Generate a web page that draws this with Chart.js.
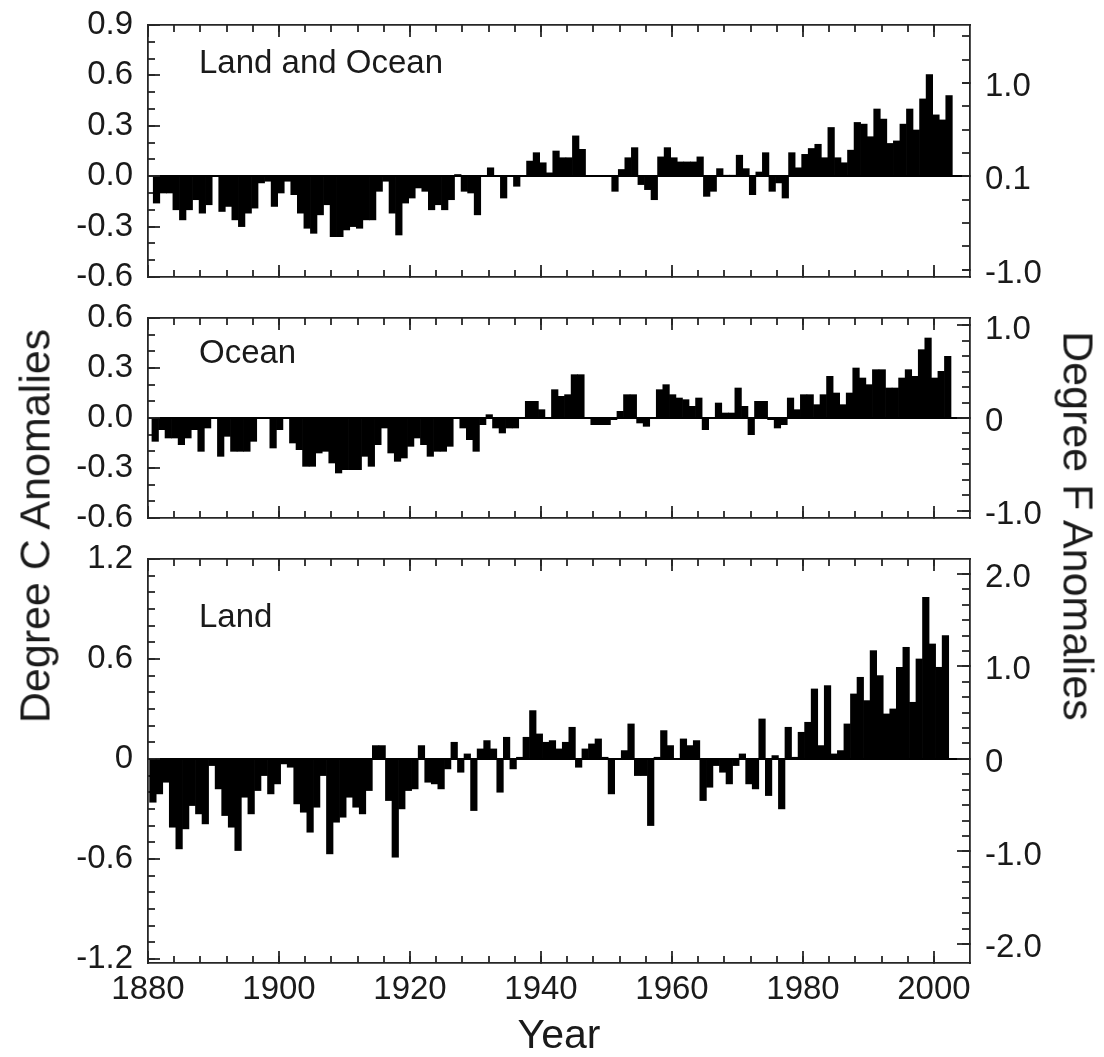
<!DOCTYPE html>
<html>
<head>
<meta charset="utf-8">
<title>Global temperature anomalies</title>
<script src="https://cdn.jsdelivr.net/npm/chart.js@4.4.0/dist/chart.umd.min.js"></script>
<style>
  body { margin: 0; background: #fff; }
  #wrap { position: relative; width: 1104px; height: 1057px; overflow: hidden;
          font-family: 'Liberation Sans', Arial, Helvetica, sans-serif; color: #1a1a1a; }
  canvas { position: absolute; left: 0; }
  .name { position: absolute; left: 199px; font-size: 33px; line-height: 33px; white-space: nowrap; }
  .ytitle { position: absolute; font-size: 43px; line-height: 1; white-space: nowrap; }
</style>
</head>
<body>
<div id="wrap">
  <canvas id="c1" width="1104" height="300" style="top:0px"></canvas>
  <canvas id="c2" width="1104" height="260" style="top:280px"></canvas>
  <canvas id="c3" width="1104" height="527" style="top:530px"></canvas>
  <div class="name" style="top:45px">Land and Ocean</div>
  <div class="name" style="top:335px">Ocean</div>
  <div class="name" style="top:599px">Land</div>
  <div class="ytitle" style="left:35px; top:526px; transform: translate(-50%, -50%) rotate(-90deg);">Degree C Anomalies</div>
  <div class="ytitle" style="left:1078px; top:526px; transform: translate(-50%, -50%) rotate(90deg);">Degree F Anomalies</div>
</div>

<script>
// years 1880 .. 2001, one bar each
const years = Array.from({ length: 122 }, (_, i) => 1880 + i);

// anomalies in degree C (rows of ten years)
const landOcean = [
  -0.16, -0.10, -0.10, -0.20, -0.26, -0.20, -0.14, -0.22, -0.17, 0.00,   // 1880
  -0.21, -0.18, -0.26, -0.30, -0.22, -0.19, -0.04, -0.03, -0.18, -0.10,  // 1890
  -0.03, -0.11, -0.22, -0.31, -0.34, -0.23, -0.17, -0.36, -0.36, -0.32,  // 1900
  -0.30, -0.31, -0.26, -0.26, -0.09, -0.03, -0.22, -0.35, -0.16, -0.13,  // 1910
  -0.07, -0.09, -0.20, -0.17, -0.20, -0.14, 0.01, -0.09, -0.10, -0.23,   // 1920
  0.00, 0.05, 0.00, -0.13, 0.00, -0.06, 0.00, 0.09, 0.14, 0.08,          // 1930
  0.02, 0.15, 0.11, 0.11, 0.24, 0.16, 0.00, 0.00, 0.00, 0.00,            // 1940
  -0.09, 0.04, 0.11, 0.17, -0.05, -0.08, -0.14, 0.115, 0.17, 0.11,       // 1950
  0.085, 0.085, 0.085, 0.115, -0.12, -0.09, 0.045, 0.005, 0.005, 0.125,  // 1960
  0.045, -0.11, 0.025, 0.14, -0.09, -0.04, -0.13, 0.14, 0.05, 0.13,      // 1970
  0.165, 0.19, 0.11, 0.29, 0.11, 0.08, 0.155, 0.32, 0.31, 0.235,         // 1980
  0.40, 0.34, 0.195, 0.21, 0.31, 0.40, 0.275, 0.46, 0.605, 0.365,        // 1990
  0.335, 0.48                                                            // 2000
];

const ocean = [
  -0.14, -0.07, -0.12, -0.12, -0.16, -0.12, -0.07, -0.20, -0.06, 0.00,   // 1880
  -0.23, -0.11, -0.20, -0.20, -0.20, -0.14, 0.00, 0.00, -0.18, -0.07,    // 1890
  0.00, -0.15, -0.19, -0.29, -0.29, -0.21, -0.20, -0.27, -0.33, -0.31,   // 1900
  -0.31, -0.31, -0.23, -0.29, -0.16, -0.06, -0.21, -0.26, -0.24, -0.17,  // 1910
  -0.12, -0.16, -0.23, -0.20, -0.20, -0.17, 0.00, -0.06, -0.13, -0.20,   // 1920
  -0.04, 0.02, -0.06, -0.09, -0.06, -0.06, 0.00, 0.10, 0.10, 0.05,       // 1930
  0.00, 0.17, 0.13, 0.14, 0.26, 0.26, 0.00, -0.04, -0.04, -0.04,         // 1940
  -0.01, 0.04, 0.14, 0.14, -0.03, -0.05, 0.00, 0.17, 0.20, 0.14,         // 1950
  0.12, 0.11, 0.07, 0.12, -0.07, 0.00, 0.09, 0.03, 0.03, 0.18,           // 1960
  0.07, -0.10, 0.10, 0.10, -0.01, -0.06, -0.04, 0.12, 0.05, 0.14,        // 1970
  0.14, 0.08, 0.14, 0.25, 0.15, 0.08, 0.15, 0.30, 0.24, 0.20,            // 1980
  0.29, 0.29, 0.18, 0.18, 0.24, 0.29, 0.25, 0.41, 0.48, 0.24,            // 1990
  0.28, 0.37                                                             // 2000
];

const land = [
  -0.26, -0.21, -0.14, -0.41, -0.54, -0.42, -0.28, -0.33, -0.39, -0.04,  // 1880
  -0.18, -0.34, -0.41, -0.55, -0.23, -0.33, -0.19, -0.10, -0.21, -0.15,  // 1890
  -0.03, -0.05, -0.27, -0.32, -0.44, -0.29, -0.10, -0.57, -0.38, -0.35,  // 1900
  -0.23, -0.29, -0.33, -0.19, 0.08, 0.08, -0.25, -0.59, -0.30, -0.19,    // 1910
  -0.18, 0.08, -0.14, -0.15, -0.18, -0.06, 0.10, -0.08, 0.03, -0.31,     // 1920
  0.06, 0.11, 0.06, -0.20, 0.13, -0.06, 0.01, 0.13, 0.29, 0.15,          // 1930
  0.10, 0.11, 0.06, 0.10, 0.19, -0.05, 0.06, 0.09, 0.12, 0.01,           // 1940
  -0.21, 0.00, 0.05, 0.21, -0.10, -0.10, -0.40, 0.01, 0.17, 0.08,        // 1950
  0.00, 0.12, 0.08, 0.11, -0.25, -0.17, -0.04, -0.08, -0.15, -0.04,      // 1960
  0.03, -0.15, -0.18, 0.24, -0.22, 0.02, -0.30, 0.19, 0.01, 0.16,        // 1970
  0.22, 0.42, 0.08, 0.44, 0.03, 0.05, 0.21, 0.39, 0.49, 0.35,            // 1980
  0.65, 0.50, 0.27, 0.30, 0.55, 0.67, 0.34, 0.60, 0.97, 0.69,            // 1990
  0.55, 0.74                                                             // 2000
];

// tick labels
const xTickValues = [1880, 1900, 1920, 1940, 1960, 1980, 2000];
const xTickLabels = ['1880', '1900', '1920', '1940', '1960', '1980', '2000'];

const loCTicks = [-0.6, -0.3, 0, 0.3, 0.6, 0.9];
const loCLabels = ['-0.6', '-0.3', '0.0', '0.3', '0.6', '0.9'];
const loFTicks = [-1, 0, 1];
const loFLabels = ['-1.0', '0.1', '1.0'];

const ocCTicks = [-0.6, -0.3, 0, 0.3, 0.6];
const ocCLabels = ['-0.6', '-0.3', '0.0', '0.3', '0.6'];
const ocFTicks = [-1, 0, 1];
const ocFLabels = ['-1.0', '0', '1.0'];

const lnCTicks = [-1.2, -0.6, 0, 0.6, 1.2];
const lnCLabels = ['-1.2', '-0.6', '0', '0.6', '1.2'];
const lnFTicks = [-2, -1, 0, 1, 2];
const lnFLabels = ['-2.0', '-1.0', '0', '1.0', '2.0'];

const C_TO_F = 1.8;
const frame = '#262626';
const ink = '#1a1a1a';
const fontFamily = "'Liberation Sans', Arial, Helvetica, sans-serif";

function steps(from, to, step) {
    const out = [];
    const n = Math.round((to - from) / step);
    for (let i = 0; i <= n; i++) out.push(+(from + i * step).toFixed(6));
    return out;
}

function setTicks(values) {
    return scale => { scale.ticks = values.map(v => ({ value: v })); };
}

// fixed axis size, and no extra room reserved for overhanging labels
function fixSize(w, h) {
    return s => {
        if (w !== null) s.width = w;
        if (h !== null) s.height = h;
        s.paddingTop = s.paddingBottom = s.paddingLeft = s.paddingRight = 0;
    };
}

function tickGrid(len, zeroLine) {
    return {
        offset: false,
        drawOnChartArea: !!zeroLine,
        color: zeroLine ? (ctx => (ctx.tick && Math.abs(ctx.tick.value) < 1e-9 ? '#000' : 'rgba(0,0,0,0)')) : 'rgba(0,0,0,0)',
        lineWidth: 2,
        drawTicks: true,
        tickLength: -len,
        tickColor: frame,
        tickWidth: 1.8
    };
}

const xMinor = steps(1880, 2000, 4);

function makePanel(p) {
    const tickFont = { family: fontFamily, size: 33 };
    const xBase = { type: 'linear', min: 1880, max: 2005.5, offset: false };

    new Chart(document.getElementById(p.id), {
        type: 'bar',
        data: {
            datasets: [{
                data: years.map((y, i) => ({ x: y + p.shift, y: p.values[i] })),
                backgroundColor: '#000',
                borderWidth: 0,
                barPercentage: 1,
                categoryPercentage: 1,
                xAxisID: 'x',
                yAxisID: 'y'
            }]
        },
        options: {
            responsive: false,
            animation: false,
            devicePixelRatio: 1,
            layout: { padding: { top: p.top, left: 0, right: 0, bottom: 0 } },
            plugins: { legend: { display: false }, tooltip: { enabled: false } },
            scales: {
                // bottom: short ticks every 4 years, long ticks + labels every 20
                x: Object.assign({}, xBase, {
                    position: 'bottom',
                    afterBuildTicks: setTicks(xMinor),
                    afterFit: fixSize(null, 0),
                    ticks: { display: false },
                    grid: tickGrid(7),
                    border: { display: false }
                }),
                xb: Object.assign({}, xBase, {
                    position: 'bottom',
                    afterBuildTicks: setTicks(xTickValues),
                    afterFit: fixSize(null, p.bottom),
                    ticks: {
                        display: p.showX, font: tickFont, color: ink, padding: 19,
                        maxRotation: 0, autoSkip: false,
                        callback: (v, i) => xTickLabels[i]
                    },
                    grid: tickGrid(12),
                    border: { display: true, color: frame, width: 1.8 },
                    title: {
                        display: p.showX, text: 'Year', color: ink, padding: 0,
                        font: { family: fontFamily, size: 41, lineHeight: 1 }
                    }
                }),
                xt: Object.assign({}, xBase, {
                    position: 'top',
                    afterBuildTicks: setTicks(xMinor),
                    afterFit: fixSize(null, 0),
                    ticks: { display: false },
                    grid: tickGrid(7),
                    border: { display: false }
                }),
                xt2: Object.assign({}, xBase, {
                    position: 'top',
                    afterBuildTicks: setTicks(xTickValues),
                    afterFit: fixSize(null, 0),
                    ticks: { display: false },
                    grid: tickGrid(12),
                    border: { display: true, color: frame, width: 1.8 }
                }),
                // left: degree C
                y: {
                    type: 'linear', position: 'left', min: p.cMin, max: p.cMax, offset: false,
                    afterBuildTicks: setTicks(steps(p.cMinorFrom, p.cMinorTo, 0.1)),
                    afterFit: fixSize(0, null),
                    ticks: { display: false },
                    grid: tickGrid(7, true),
                    border: { display: false }
                },
                yl: {
                    type: 'linear', position: 'left', min: p.cMin, max: p.cMax, offset: false,
                    afterBuildTicks: setTicks(p.cTicks),
                    afterFit: fixSize(148, null),
                    ticks: {
                        font: tickFont, color: ink, padding: 27, autoSkip: false,
                        callback: (v, i) => p.cLabels[i]
                    },
                    grid: tickGrid(12),
                    border: { display: true, color: frame, width: 1.8 }
                },
                // right: degree F
                yf: {
                    type: 'linear', position: 'right', min: p.cMin * C_TO_F, max: p.cMax * C_TO_F, offset: false,
                    afterBuildTicks: setTicks(steps(p.fMinorFrom, p.fMinorTo, p.fStep)),
                    afterFit: fixSize(0, null),
                    ticks: { display: false },
                    grid: tickGrid(8),
                    border: { display: false }
                },
                yf2: {
                    type: 'linear', position: 'right', min: p.cMin * C_TO_F, max: p.cMax * C_TO_F, offset: false,
                    afterBuildTicks: setTicks(p.fTicks),
                    afterFit: fixSize(134, null),
                    ticks: {
                        font: tickFont, color: ink, padding: 15 + p.fLong, autoSkip: false, labelOffset: 4,
                        callback: (v, i) => p.fLabels[i]
                    },
                    grid: tickGrid(p.fLong),
                    border: { display: true, color: frame, width: 1.8 }
                }
            }
        }
    });
}

makePanel({
    id: 'c1', values: landOcean, shift: 1.3, top: 25, bottom: 23, showX: false,
    cMin: -0.6, cMax: 0.9, cMinorFrom: -0.6, cMinorTo: 0.9, cTicks: loCTicks, cLabels: loCLabels,
    fMinorFrom: -1, fMinorTo: 1.5, fStep: 0.25, fTicks: loFTicks, fLabels: loFLabels, fLong: 8
});

makePanel({
    id: 'c2', values: ocean, shift: 1.1, top: 38, bottom: 22, showX: false,
    cMin: -0.6, cMax: 0.6, cMinorFrom: -0.6, cMinorTo: 0.6, cTicks: ocCTicks, cLabels: ocCLabels,
    fMinorFrom: -1, fMinorTo: 1, fStep: 1 / 6, fTicks: ocFTicks, fLabels: ocFLabels, fLong: 13
});

makePanel({
    id: 'c3', values: land, shift: 0.75, top: 29, bottom: 94, showX: true,
    cMin: -1.225, cMax: 1.2, cMinorFrom: -1.2, cMinorTo: 1.2, cTicks: lnCTicks, cLabels: lnCLabels,
    fMinorFrom: -2, fMinorTo: 2, fStep: 1 / 6, fTicks: lnFTicks, fLabels: lnFLabels, fLong: 13
});
</script>
</body>
</html>
